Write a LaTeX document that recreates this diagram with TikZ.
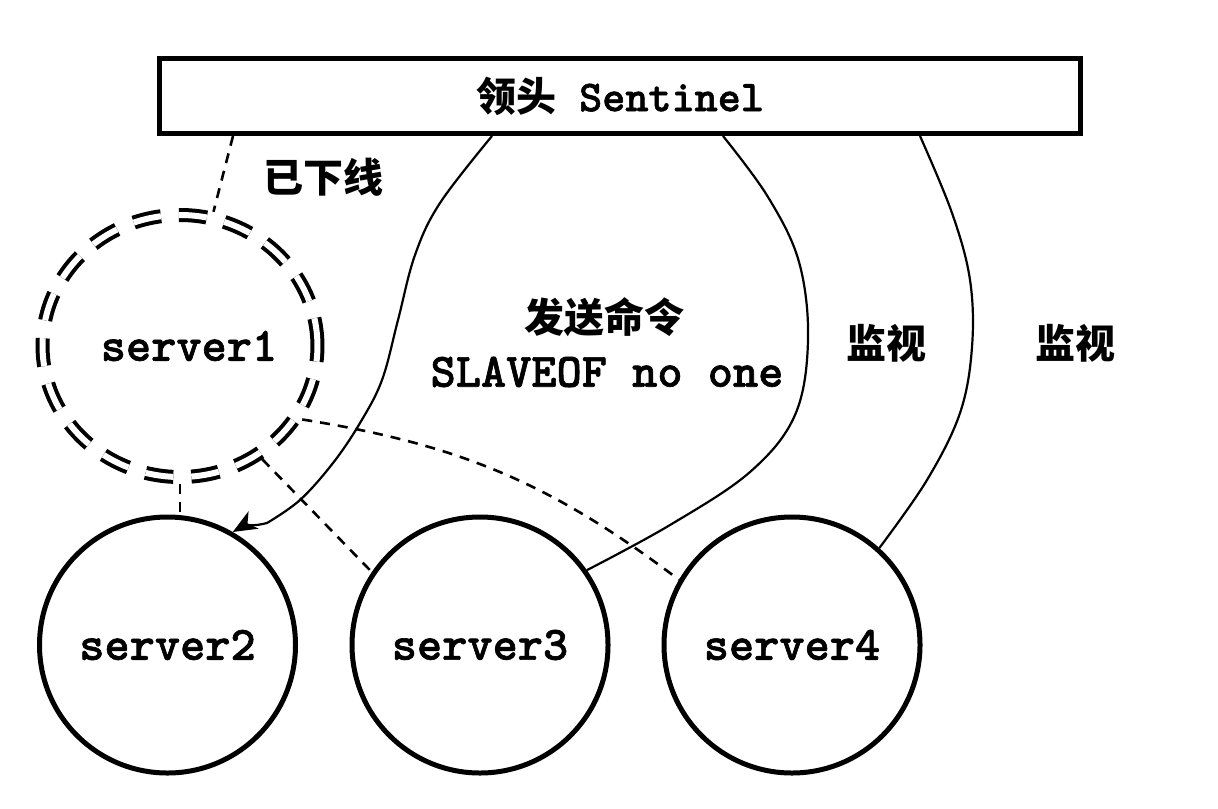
\documentclass[tikz,border=0pt]{standalone}
\usepackage{fontspec}
\newfontfamily\srvfont{lmmonolt10-bold.otf}[FakeBold=1.3]
\newfontfamily\cjk{Noto Sans CJK SC}
\usetikzlibrary{shapes.geometric,arrows.meta}
\tikzset{
  srv/.style={circle, draw, line width=2.5pt, minimum size=128pt, inner sep=0pt,
    font=\srvfont\fontsize{24}{26}\selectfont},
  downsrv/.style={ellipse, draw, line width=2pt, double, double distance=3pt,
    dash pattern=on 14pt off 9pt, minimum width=137pt, minimum height=131pt,
    inner sep=0pt, outer sep=3.5pt, font=\srvfont\fontsize{24}{26}\selectfont},
  leader/.style={rectangle, draw, line width=2.5pt, minimum width=460.5pt,
    minimum height=37.5pt, inner sep=0pt, font=\srvfont\fontsize{22}{24}\selectfont},
  link/.style={line width=1.1pt},
  dlink/.style={line width=1.3pt, dash pattern=on 5pt off 4pt},
  cjklabel/.style={font=\cjk\bfseries\fontsize{20}{22}\selectfont, inner sep=0pt},
  ttlabel/.style={font=\srvfont\fontsize{24}{26}\selectfont, inner sep=0pt},
  tip/.style={-{Stealth[length=12pt, width=10pt, inset=3.5pt]}}
}
\begin{document}
\begin{tikzpicture}[x=0.5pt, y=-0.5pt]
  \path[fill=white, use as bounding box] (0,0) rectangle (1218,808);

  \node[leader] (box) at (620,96) {{\cjk\bfseries\fontsize{20}{22}\selectfont 领头} Sentinel};

  \node[downsrv] (s1) at (180,346) {\hspace*{9pt}server1};
  \node[srv] (s2) at (167.5,645) {server2};
  \node[srv] (s3) at (480,645) {server3};
  \node[srv] (s4) at (792,645) {server4};

  \coordinate (bD) at (box.south -| 233,0);
  \coordinate (bA) at (box.south -| 492,0);
  \coordinate (bB) at (box.south -| 723,0);
  \coordinate (bC) at (box.south -| 920,0);

  \node[cjklabel] (off) at (323,177) {已下线};
  \node[cjklabel] (cmd) at (604,317) {发送命令};
  \node[ttlabel] (slave) at (607,372) {SLAVEOF no one};
  \node[cjklabel] (mon1) at (886,343) {监视};
  \node[cjklabel] (mon2) at (1075,343) {监视};

  % dashed links
  \draw[dlink] (bD) -- (s1.76);
  \draw[dlink] (s1.south) -- (s1.south |- s2.north);
  \draw[dlink] (s1.-54) -- (s3.146);
  \draw[dlink] (s1.-31) to[bend left=14] (s4.150);

  % command curve to server2
  \draw[link, tip] plot[smooth, tension=0.6] coordinates {(bA) (440,203) (415,255) (398,320)
      (382,380) (360,423) (333,463) (300,500) (267,523)}
      to[out=195, in=30] (s2.60);

  % monitoring curves
  \draw[link] plot[smooth, tension=0.6] coordinates {(bB) (768,197) (799,262) (808,340)
      (795,415) (750,472) (670,525) (s3.35)};
  \draw[link] plot[smooth, tension=0.6] coordinates {(bC) (952,213) (970,280) (972,347)
      (960,413) (927,480) (s4.48)};
\end{tikzpicture}
\end{document}
